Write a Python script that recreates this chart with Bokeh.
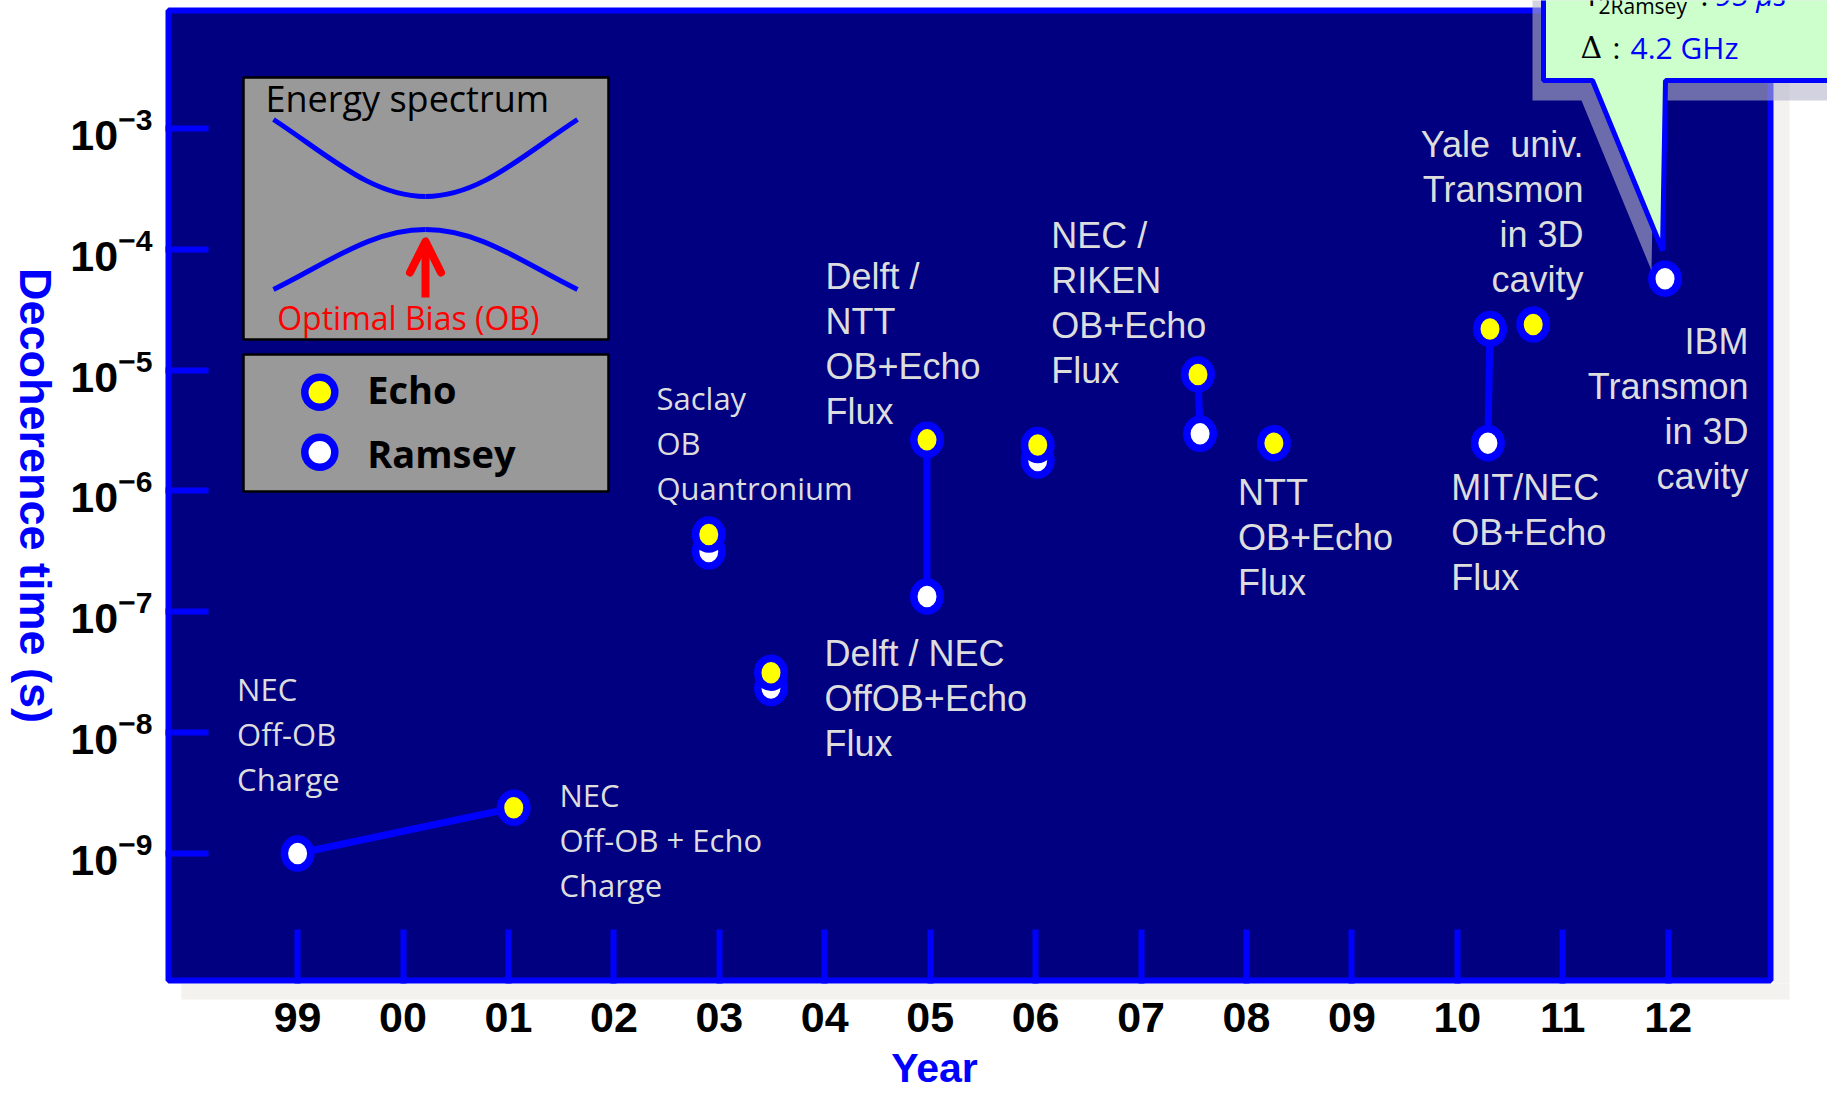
import math
from bokeh.plotting import figure
from bokeh.models import Range1d, LinearScale, FixedTicker, Arrow, OpenHead
from bokeh.core.properties import value
from bokeh.embed import file_html
from bokeh.resources import INLINE

# ---------------- data ----------------
year_ticks = [1999, 2000, 2001, 2002, 2003, 2004, 2005, 2006, 2007, 2008, 2009, 2010, 2011, 2012]
year_tick_labels = ["99", "00", "01", "02", "03", "04", "05", "06", "07", "08", "09", "10", "11", "12"]
time_ticks = [1e-9, 1e-8, 1e-7, 1e-6, 1e-5, 1e-4, 1e-3]

echo_year = [2001.05, 2002.90, 2003.49, 2004.97, 2006.02, 2007.54, 2008.26, 2010.31, 2010.72]
echo_time = [2.39e-9, 4.36e-7, 3.13e-8, 2.65e-6, 2.40e-6, 9.2e-6, 2.48e-6, 2.19e-5, 2.39e-5]
ramsey_year = [1999.00, 2002.90, 2003.49, 2004.97, 2006.02, 2007.56, 2010.29, 2011.97]
ramsey_time = [1.0e-9, 3.16e-7, 2.34e-8, 1.34e-7, 1.79e-6, 2.97e-6, 2.49e-6, 5.70e-5]
# pairs of (ramsey index, echo index) joined by a line
link_ramsey = [0, 3, 5, 6]
link_echo = [0, 3, 5, 7]

# ---------------- layout (page pixels) ----------------
W, H = 1827, 1094
AX_X, AX_Y = 165, 983                 # where the y axis and the x axis sit
PX_PER_YEAR, X1999 = 105.43, 297.1
PX_PER_DEC, Y1E3 = 120.833, 128.0


def year_at(px):
    return 1999 + (px - X1999) / PX_PER_YEAR


def time_at(py):
    return 10 ** (-3 - (py - Y1E3) / PX_PER_DEC)


NAVY = "#000080"
BLUE = "#0000ff"
TXT = "#dddddd"
BL = 0.38          # baseline correction (fraction of font size)

p = figure(width=W, height=H, x_range=Range1d(year_at(0), year_at(W)),
           y_range=Range1d(time_at(H), time_at(0)), y_axis_type="log",
           output_backend="svg", toolbar_location=None,
           min_border_left=0, min_border_right=0, min_border_top=0, min_border_bottom=0)
p.extra_x_ranges = {"pg": Range1d(0, W)}
p.extra_y_ranges = {"pg": Range1d(H, 0)}
p.extra_y_scales = {"pg": LinearScale()}
PG = dict(x_range_name="pg", y_range_name="pg")

p.background_fill_color = "white"
p.border_fill_color = "white"
p.outline_line_color = None
p.grid.visible = False

xa = p.xaxis[0]
xa.ticker = FixedTicker(ticks=year_ticks)
xa.major_label_overrides = dict(zip(year_ticks, year_tick_labels))
xa.fixed_location = time_at(AX_Y)
ya = p.yaxis[0]
ya.ticker = FixedTicker(ticks=time_ticks)
ya.fixed_location = year_at(AX_X)
for ax, tin in ((xa, 54), (ya, 43)):
    ax.axis_line_color = None
    ax.major_tick_in = tin
    ax.major_tick_out = 0
    ax.major_tick_line_color = BLUE
    ax.major_tick_line_width = 6
    ax.minor_tick_line_color = None
    ax.major_label_text_font = "Liberation Sans"
    ax.major_label_text_font_style = "bold"
    ax.major_label_text_font_size = "43px"
    ax.major_label_text_color = "black"
xa.major_label_standoff = 19
ya.major_label_standoff = 13


def txt(xs, ys, texts, size, color, font="Open Sans", style="normal", align="left"):
    p.text(x=xs, y=[y - BL * size for y in ys], text=texts, text_font=value(font),
           text_font_size=value(f"{size}px"), text_font_style=style, text_color=color,
           text_align=align, text_baseline="alphabetic", **PG)


# ---------------- plot panel (shadow, navy box, blue border) ----------------
p.quad(left=[1773, 181], right=[1789, 1789], top=[23, 983], bottom=[983, 999],
       fill_color="#f3f2ee", line_color=None, **PG)
p.quad(left=[168], right=[1770], top=[10], bottom=[980], fill_color=NAVY,
       line_color=BLUE, line_width=6, **PG)

# axis titles
p.text(x=[35], y=[495], text=["Decoherence time (s)"], angle=-math.pi / 2,
       text_font=value("Liberation Sans"), text_font_style="bold",
       text_font_size=value("45px"), text_color=BLUE, text_align="center",
       text_baseline="middle", **PG)
txt([934], [1083], ["Year"], 41, BLUE, font="Liberation Sans", style="bold", align="center")

# ---------------- inset: energy spectrum ----------------
p.quad(left=[243], right=[608], top=[77], bottom=[339], fill_color="#999999",
       line_color="black", line_width=2.5, **PG)
p.bezier(x0=[273, 577, 273, 577], y0=[119, 119, 289, 289],
         x1=[425, 425, 425, 425], y1=[196, 196, 229, 229],
         cx0=[328, 522, 328, 522], cy0=[155, 155, 262, 262],
         cx1=[371, 479, 371, 479], cy1=[196, 196, 229, 229],
         line_color=BLUE, line_width=5, **PG)
p.add_layout(Arrow(x_start=425, y_start=297, x_end=425, y_end=241,
                   line_color="red", line_width=8,
                   end=OpenHead(size=31, line_color="red", line_width=8,
                                line_join="round", line_cap="round"), **PG))
txt([265], [111.7], ["Energy spectrum"], 36, "black")
txt([276.7], [329.3], ["Optimal Bias (OB)"], 32, "red")

# ---------------- legend box ----------------
p.quad(left=[243], right=[608], top=[354], bottom=[491], fill_color="#999999",
       line_color="black", line_width=2.5, **PG)
p.scatter(x=[319.3], y=[391.7], size=30, marker="circle", fill_color="#ffff00",
          line_color=BLUE, line_width=7.5, **PG)
p.scatter(x=[319.3], y=[451.7], size=30, marker="circle", fill_color="white",
          line_color=BLUE, line_width=7.5, **PG)
txt([366.7, 366.7], [403.3, 466.7], ["Echo", "Ramsey"], 38, "black", style="bold")

# ---------------- annotation texts ----------------
LINE = 45
arial_blocks = [
    (["Delft /", "NTT", "OB+Echo", "Flux"], 825, 289.3, "left"),
    (["NEC /", "RIKEN", "OB+Echo", "Flux"], 1050.7, 248.3, "left"),
    (["Delft / NEC", "OffOB+Echo", "Flux"], 824, 667, "left"),
    (["NTT", "OB+Echo", "Flux"], 1237.4, 505.4, "left"),
    (["MIT/NEC", "OB+Echo", "Flux"], 1450.7, 500.7, "left"),
    (["Yale\u00a0\u00a0univ.", "Transmon", "in 3D", "cavity"], 1583, 157.3, "right"),
    (["IBM", "Transmon", "in 3D", "cavity"], 1748, 354.3, "right"),
]
sans_blocks = [
    (["NEC", "Off-OB", "Charge"], 236.6, 700.7, "left"),
    (["NEC", "Off-OB + Echo", "Charge"], 558.9, 806.7, "left"),
    (["Saclay", "OB", "Quantronium"], 656, 409.3, "left"),
]


def draw_blocks(blocks, font, size):
    for align in ("left", "right"):
        xs, ys, ts = [], [], []
        for lines, bx, by, al in blocks:
            if al != align:
                continue
            for k, t in enumerate(lines):
                xs.append(bx)
                ys.append(by + k * LINE)
                ts.append(t)
        if ts:
            txt(xs, ys, ts, size, TXT, font=font, align=align)


draw_blocks(arial_blocks, "Liberation Sans", 36)
draw_blocks(sans_blocks, "Open Sans", 31)

# ---------------- data marks ----------------
p.segment(x0=[ramsey_year[i] for i in link_ramsey], y0=[ramsey_time[i] for i in link_ramsey],
          x1=[echo_year[j] for j in link_echo], y1=[echo_time[j] for j in link_echo],
          line_color=BLUE, line_width=7)
p.ellipse(x=ramsey_year, y=ramsey_time, width=26.5, height=29,
          width_units="screen", height_units="screen",
          fill_color="white", line_color=BLUE, line_width=7.5)
p.ellipse(x=echo_year, y=echo_time, width=26.5, height=29,
          width_units="screen", height_units="screen",
          fill_color="#ffff00", line_color=BLUE, line_width=7.5)

# ---------------- callout ----------------
p.patch(x=[1532, 1581, 1651, 1654, 1860, 1860, 1532],
        y=[100, 100, 270, 100, 100, -40, -40],
        fill_color="#b4b4cc", fill_alpha=0.6, line_color=None, **PG)
p.patch(x=[1543, 1592, 1662, 1665, 1860, 1860, 1543],
        y=[80, 80, 250, 80, 80, -40, -40],
        fill_color="#ccffcc", line_color=BLUE, line_width=5, **PG)
txt([1580], [58], ["\u0394"], 30, "black", font="DejaVu Serif")
txt([1612], [58], [":"], 30, "black")
txt([1630], [58], ["4.2 GHz"], 30, BLUE)
txt([1583], [5], ["T"], 30, "black")
txt([1598], [13], ["2Ramsey"], 21, "black")
txt([1700], [5], [":"], 30, "black")
txt([1715], [5], ["95 \u03bcs"], 30, BLUE, style="italic")

open("out.html", "w").write(file_html(p, INLINE))
